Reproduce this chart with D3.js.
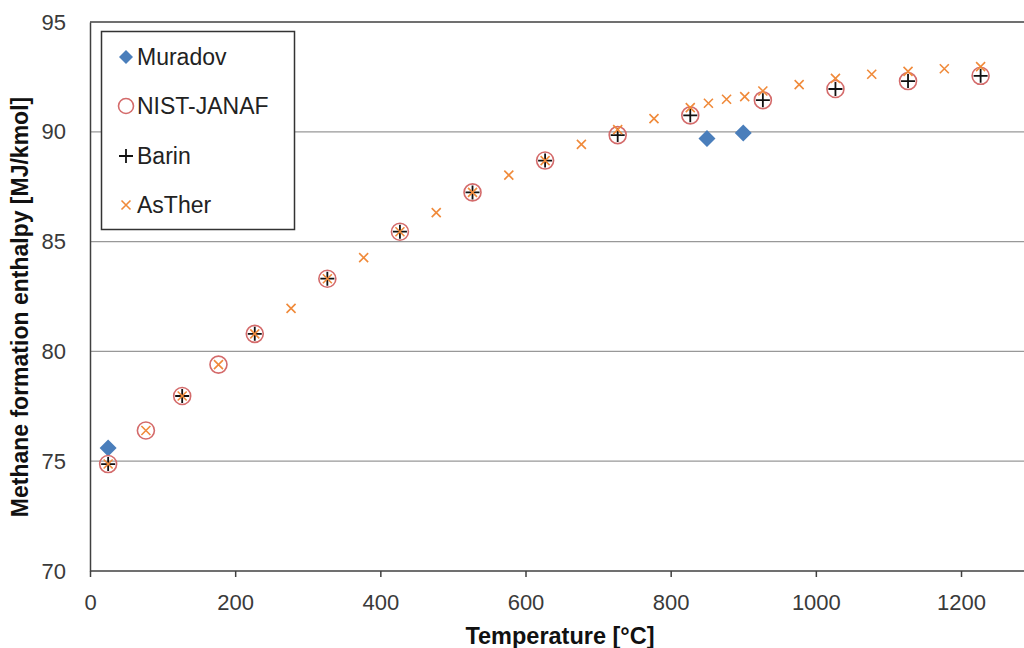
<!DOCTYPE html>
<html><head><meta charset="utf-8">
<script src="https://cdn.jsdelivr.net/npm/d3@7"></script>
<style>body{margin:0;background:#fff}svg{display:block}</style>
</head><body>
<script>
const muradovT = [25, 850, 900];
const muradovH = [75.6, 89.7, 89.95];
const nistT = [25, 77, 127, 177, 227, 327, 427, 527, 627, 727, 827, 927, 1027, 1127, 1227];
const nistH = [74.87, 76.4, 77.97, 79.4, 80.8, 83.31, 85.45, 87.24, 88.69, 89.85, 90.75, 91.44, 91.95, 92.31, 92.55];
const barinT = [25, 127, 227, 327, 427, 527, 627, 727, 827, 927, 1027, 1127, 1227];
const barinH = [74.87, 77.97, 80.8, 83.31, 85.45, 87.24, 88.69, 89.85, 90.75, 91.44, 91.95, 92.31, 92.55];
const astherT = [25, 77, 127, 177, 227, 277, 327, 377, 427, 477, 527, 577, 627, 677, 727, 777, 827, 852, 877, 902, 927, 977, 1027, 1077, 1127, 1177, 1227];
const astherH = [74.87, 76.4, 77.97, 79.4, 80.8, 81.96, 83.31, 84.27, 85.45, 86.32, 87.24, 88.03, 88.69, 89.43, 90.1, 90.6, 91.1, 91.3, 91.48, 91.6, 91.86, 92.15, 92.43, 92.62, 92.75, 92.87, 92.97];
const xTicks = [0, 200, 400, 600, 800, 1000, 1200];
const yTicks = [70, 75, 80, 85, 90, 95];
const seriesNames = ["Muradov", "NIST-JANAF", "Barin", "AsTher"];

const W = 1024, H = 648;
const svg = d3.select("body").append("svg").attr("width", W).attr("height", H);
const x = d3.scaleLinear().domain([0, 1300]).range([90, 1033.6]);
const y = d3.scaleLinear().domain([70, 95]).range([571, 22]);
const font = "Liberation Sans, Arial, sans-serif";

// gridlines
svg.append("g").selectAll("line").data(yTicks.filter(v => v > 70 && v < 95)).join("line")
  .attr("x1", x(0)).attr("x2", W).attr("y1", d => y(d)).attr("y2", d => y(d))
  .attr("stroke", "#989898").attr("stroke-width", 1.3);
// top border
svg.append("line").attr("x1", x(0)).attr("x2", W).attr("y1", y(95)).attr("y2", y(95))
  .attr("stroke", "#404040").attr("stroke-width", 1.5);

// axes
const xAxis = svg.append("g").attr("transform", `translate(0,${y(70)})`)
  .call(d3.axisBottom(x).tickValues(xTicks).tickSize(6).tickPadding(17).tickFormat(d3.format("d")));
const yAxis = svg.append("g").attr("transform", `translate(${x(0)},0)`)
  .call(d3.axisLeft(y).tickValues(yTicks).tickSize(0).tickPadding(24).tickFormat(d3.format("d")));
[xAxis, yAxis].forEach(a => {
  a.select(".domain").attr("stroke", "#404040").attr("stroke-width", 1.5);
  a.selectAll(".tick line").attr("stroke", "#404040").attr("stroke-width", 1.5);
  a.selectAll("text").attr("font-family", font).attr("font-size", 22).attr("fill", "#3a3a3a");
});
xAxis.select(".domain").attr("d", `M${x(0)},0H${W}`);

// axis titles
svg.append("text").attr("x", 560).attr("y", 644).attr("text-anchor", "middle")
  .attr("font-family", font).attr("font-size", 23.5).attr("font-weight", "bold").attr("fill", "#111")
  .text("Temperature [°C]");
svg.append("text").attr("transform", "translate(28,307) rotate(-90)").attr("text-anchor", "middle")
  .attr("font-family", font).attr("font-size", 23).attr("font-weight", "bold").attr("fill", "#111")
  .text("Methane formation enthalpy [MJ/kmol]");

const blue = "#4a7ebb", red = "#d46b6b", black = "#111", orange = "#f08a3a";
function diamond(g, cx, cy, s) {
  g.append("path").attr("d", `M${cx},${cy - s}L${cx + s},${cy}L${cx},${cy + s}L${cx - s},${cy}Z`).attr("fill", blue);
}
function circle(g, cx, cy, r) {
  g.append("circle").attr("cx", cx).attr("cy", cy).attr("r", r || 8.5).attr("fill", "none").attr("stroke", red).attr("stroke-width", 1.6);
}
function plus(g, cx, cy) {
  g.append("path").attr("d", `M${cx - 7},${cy}H${cx + 7}M${cx},${cy - 7}V${cy + 7}`).attr("stroke", black).attr("stroke-width", 1.8);
}
function cross(g, cx, cy) {
  g.append("path").attr("d", `M${cx - 4.5},${cy - 4.5}L${cx + 4.5},${cy + 4.5}M${cx + 4.5},${cy - 4.5}L${cx - 4.5},${cy + 4.5}`).attr("stroke", orange).attr("stroke-width", 1.6);
}

const gm = svg.append("g");
muradovT.forEach((t, i) => diamond(gm, x(t), y(muradovH[i]), 8.5));
nistT.forEach((t, i) => circle(gm, x(t), y(nistH[i])));
barinT.forEach((t, i) => plus(gm, x(t), y(barinH[i])));
astherT.forEach((t, i) => cross(gm, x(t), y(astherH[i])));

// legend
const lg = svg.append("g");
lg.append("rect").attr("x", 101.5).attr("y", 31.5).attr("width", 193).attr("height", 198)
  .attr("fill", "#fff").attr("stroke", "#333").attr("stroke-width", 1.5);
const ly = [57, 106, 156, 205];
const drawers = [(g, a, b) => diamond(g, a, b, 7), (g, a, b) => circle(g, a, b, 7.5), plus, cross];
seriesNames.forEach((n, i) => {
  drawers[i](lg, 126, ly[i]);
  lg.append("text").attr("x", 137).attr("y", ly[i] + 8).attr("font-family", font).attr("font-size", 23)
    .attr("fill", "#222").text(n);
});
</script>
</body></html>
